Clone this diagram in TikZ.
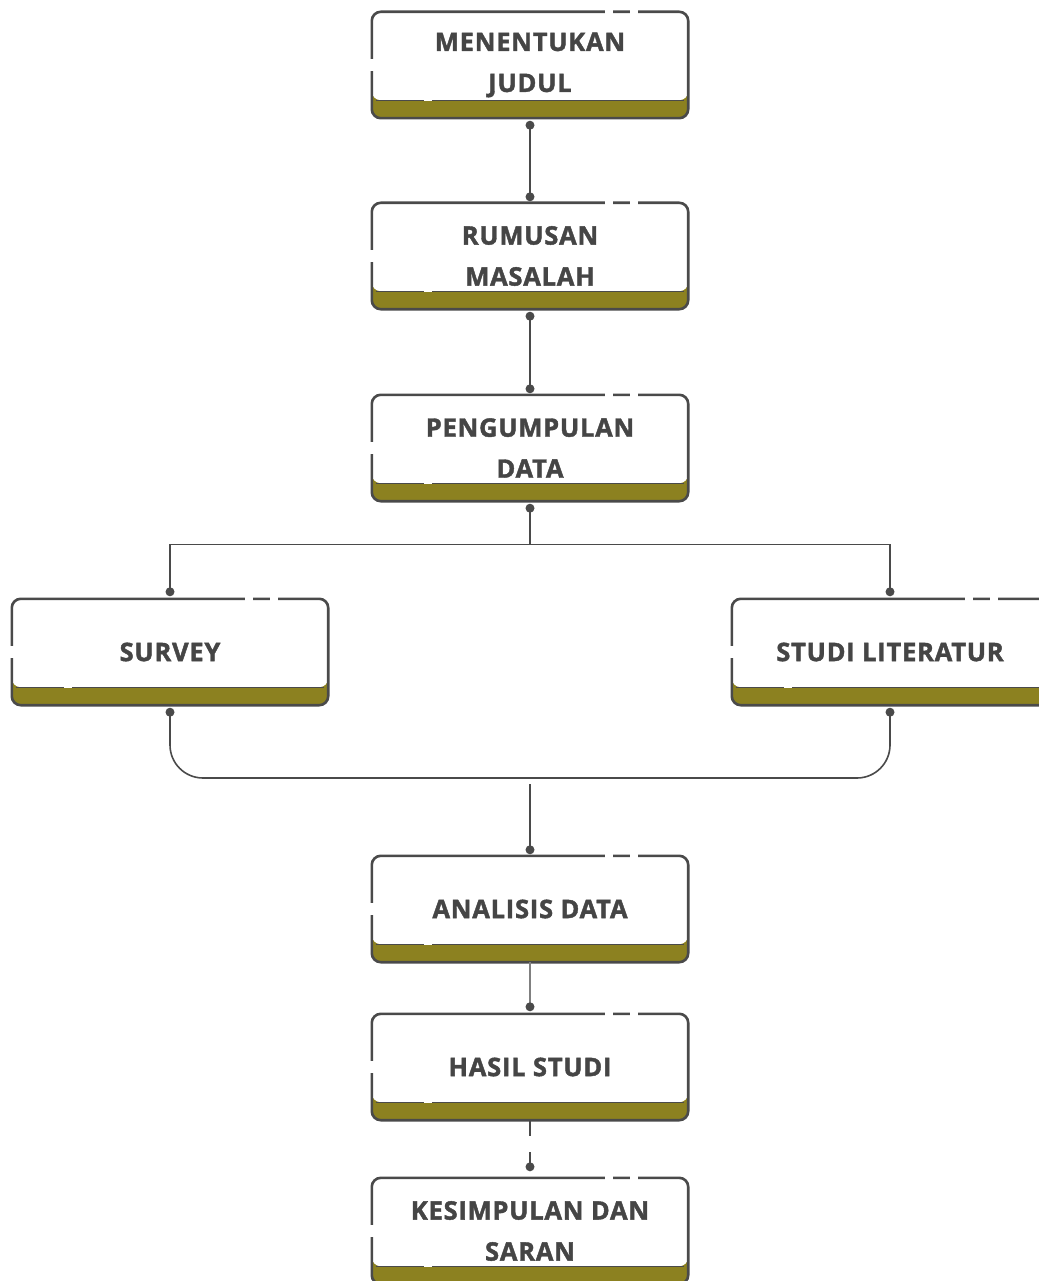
\documentclass[tikz,border=0pt]{standalone}
\usepackage{fontspec}
\setmainfont{Open Sans}[BoldFeatures={FakeBold=1.6,LetterSpace=3}]
\usetikzlibrary{calc,backgrounds}
\definecolor{edge}{HTML}{4A4A4A}
\definecolor{olivestrip}{HTML}{8C8120}
\definecolor{txt}{HTML}{454545}
\tikzset{
  stepbox/.style={minimum width=316pt, minimum height=106pt, inner sep=0pt, align=center,
    font=\fontsize{25.5}{41}\selectfont\bfseries, text=txt},
  conn/.style={draw=edge, line width=1.6pt},
  dotend/.style={fill=edge, draw=none},
}
\newcommand\boxdeco[1]{%
  \begin{scope}[on background layer]
    \path (#1.north west) coordinate (nw) (#1.south east) coordinate (se);
    \fill[olivestrip, rounded corners=9pt] (nw) rectangle (se);
    \fill[white, rounded corners=9pt] (nw) rectangle ($(se)+(0,18pt)$);
    \draw[edge, line width=1.2pt] ($(nw|-se)+(4pt,18pt)$) -- ($(se)+(-4pt,18pt)$);
    \draw[edge, line width=2.6pt, rounded corners=9pt] (nw) rectangle (se);
    % gaps in the border
    \fill[white] ($(nw)+(233pt,-3pt)$) rectangle ($(nw)+(241pt,3pt)$);
    \fill[white] ($(nw)+(258pt,-3pt)$) rectangle ($(nw)+(266pt,3pt)$);
    \fill[white] ($(nw)+(-3pt,-47pt)$) rectangle ($(nw)+(3pt,-59pt)$);
    \fill[white] ($(nw|-se)+(52pt,17pt)$) rectangle ($(nw|-se)+(60pt,20pt)$);
  \end{scope}}
\begin{document}
\begin{tikzpicture}[x=1pt,y=-1pt]
\useasboundingbox (0,0) rectangle (1038,1281);
\clip (0,0) rectangle (1038,1281);
\begin{scope}[on background layer]
\fill[white] (0,0) rectangle (1038,1281);
\end{scope}

\node[stepbox] (b1) at (530,65) {MENENTUKAN\\JUDUL};
\node[stepbox] (b2) at (530,256) {RUMUSAN\\MASALAH};
\node[stepbox] (b3) at (530,448) {PENGUMPULAN\\DATA};
\node[stepbox] (sv) at (170,652) {SURVEY};
\node[stepbox] (sl) at (890,652) {STUDI LITERATUR};
\node[stepbox] (an) at (530,909) {ANALISIS DATA};
\node[stepbox] (hs) at (530,1067) {HASIL STUDI};
\node[stepbox] (ks) at (530,1231) {KESIMPULAN DAN\\SARAN};

\foreach \n in {b1,b2,b3,sv,sl,an,hs,ks} {\boxdeco{\n}}

% coordinates for connector ends
\coordinate (b1s) at ([yshift=-7pt]b1.south);
\coordinate (b2n) at ([yshift=6pt]b2.north);
\coordinate (b2s) at ([yshift=-7pt]b2.south);
\coordinate (b3n) at ([yshift=6pt]b3.north);
\coordinate (b3s) at ([yshift=-7pt]b3.south);
\coordinate (svn) at ([yshift=7pt]sv.north);
\coordinate (sln) at ([yshift=7pt]sl.north);
\coordinate (svs) at ([yshift=-7pt]sv.south);
\coordinate (sls) at ([yshift=-7pt]sl.south);
\coordinate (ann) at ([yshift=6pt]an.north);
\coordinate (hsn) at ([yshift=7pt]hs.north);
\coordinate (ksn) at ([yshift=11pt]ks.north);
\coordinate (split) at ($(b3s)+(0,36)$);
\coordinate (mergeL) at (sv.south |- 0,778);
\coordinate (mergeR) at (sl.south |- 0,778);
\coordinate (mergeC) at (530,784);

\draw[conn] (b1s) -- (b2n);
\draw[conn] (b2s) -- (b3n);
\draw[conn, line width=1.3pt] (b3s) -- (split);
\draw[conn, line width=1.3pt] (svn) |- (split) -| (sln);
\draw[conn, rounded corners=33pt] (svs) -- (mergeL) -- (mergeR) -- (sls);
\draw[conn] (mergeC) -- (ann);
\draw[conn, draw=edge!70, line width=1.3pt] (an.south) -- (hsn);
\draw[conn, line width=1.3pt, dash pattern=on 16pt off 16pt on 30pt] (hs.south) -- (ksn);

\foreach \p in {b1s,b2n,b2s,b3n,b3s,svn,sln,svs,sls,ann,hsn,ksn}
  \fill[dotend] (\p) circle (4.5pt);
\end{tikzpicture}
\end{document}
